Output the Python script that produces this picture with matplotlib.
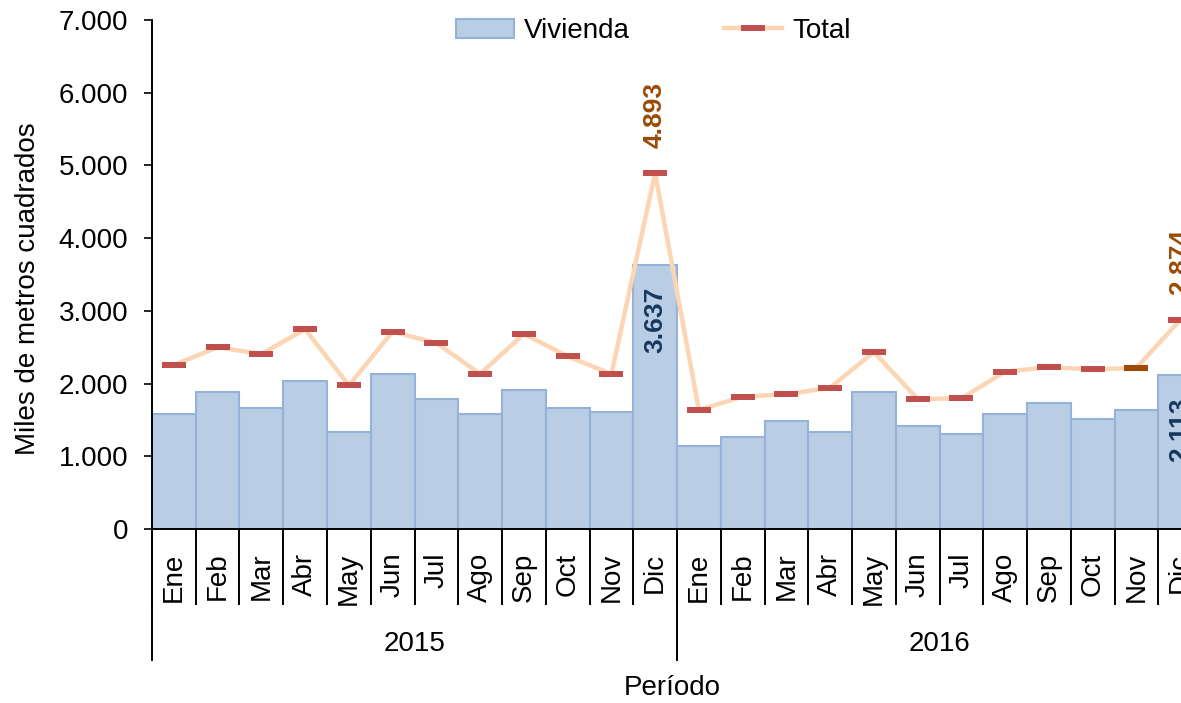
import numpy as np
import matplotlib
matplotlib.use("Agg")
import matplotlib.pyplot as plt
from matplotlib.ticker import FuncFormatter
from matplotlib.patches import Patch
from matplotlib.lines import Line2D

plt.rcParams['font.family'] = ['Liberation Sans', 'DejaVu Sans']

# Datos (miles de m2)
meses = ["Ene", "Feb", "Mar", "Abr", "May", "Jun",
         "Jul", "Ago", "Sep", "Oct", "Nov", "Dic"]
anios = ["2015", "2016"]
vivienda = [1577, 1880, 1669, 2035, 1338, 2132, 1792, 1582, 1912, 1669, 1609, 3637,
            1142, 1270, 1485, 1334, 1880, 1421, 1307, 1582, 1733, 1513, 1637, 2113]
total = [2255, 2499, 2407, 2746, 1976, 2714, 2558, 2132, 2682, 2375, 2132, 4893,
         1637, 1820, 1852, 1944, 2434, 1788, 1797, 2164, 2224, 2196, 2214, 2874]
etiquetados = [11, 23]   # Dic de cada año
resaltado = 22           # Nov 2016

c_barra = "#B9CDE5"
c_borde = "#95B3D7"
c_linea = "#FCD5B5"
c_marca = "#C0504D"
c_marron = "#9C4A06"
c_azul = "#17375E"

n = len(vivienda)
x = np.arange(n)

fig = plt.figure(figsize=(11.81, 7.03), dpi=100)
ax = fig.add_axes([152 / 1181, 1 - 529 / 703, (1202 - 152) / 1181, 509 / 703])

ax.bar(x, vivienda, width=1.0, color=c_barra, edgecolor=c_borde, linewidth=1.5, zorder=2)

dash = [(-1, -0.26), (1, -0.26), (1, 0.26), (-1, 0.26), (-1, -0.26)]
ax.plot(x, total, color=c_linea, linewidth=3.2, zorder=3)
ax.plot(x, total, linestyle="none", marker=dash, markersize=17,
        color=c_marca, markeredgewidth=0, zorder=4)
ax.plot(x[resaltado], total[resaltado], linestyle="none", marker=dash, markersize=17,
        color=c_marron, markeredgewidth=0, zorder=5)

for i in etiquetados:
    ax.annotate(f"{vivienda[i]:,}".replace(",", "."), (x[i], vivienda[i]),
                xytext=(0, -16), textcoords="offset points", rotation=90,
                ha="center", va="top", fontsize=19, fontweight="bold",
                color=c_azul, zorder=6, annotation_clip=False)
    ax.annotate(f"{total[i]:,}".replace(",", "."), (x[i], total[i]),
                xytext=(0, 18), textcoords="offset points", rotation=90,
                ha="center", va="bottom", fontsize=19, fontweight="bold",
                color=c_marron, zorder=6, annotation_clip=False)

ax.set_xlim(-0.5, n - 0.5)
ax.set_ylim(0, 7000)
ax.set_yticks(np.arange(0, 7001, 1000))
ax.yaxis.set_major_formatter(FuncFormatter(lambda v, p: f"{int(v):,}".replace(",", ".")))
ax.tick_params(axis="y", labelsize=20, length=6, width=1.2, pad=11)

# separadores de meses (ticks mayores) y etiquetas (ticks menores)
ax.set_xticks(np.arange(-0.5, n, 1.0))
ax.set_xticklabels([])
ax.tick_params(axis="x", which="major", length=55, width=1.4, direction="out")
ax.set_xticks(x, minor=True)
ax.set_xticklabels(meses * len(anios), minor=True, rotation=90, fontsize=20)
ax.tick_params(axis="x", which="minor", length=0, pad=17)

# separadores de año
trans = ax.get_xaxis_transform()
for k in range(len(anios) + 1):
    ax.plot([k * 12 - 0.5] * 2, [0, -0.257], color="black", linewidth=1.4,
            transform=trans, clip_on=False)
for k, a in enumerate(anios):
    ax.text(k * 12 + 5.5, -0.225, a, transform=trans, ha="center", va="center",
            fontsize=20)

for s in ["top", "right"]:
    ax.spines[s].set_visible(False)
for s in ["left", "bottom"]:
    ax.spines[s].set_linewidth(1.4)

fig.text(672 / 1181, 1 - 688 / 703, "Período", ha="center", va="center", fontsize=20)
fig.text(28 / 1181, 1 - 289 / 703, "Miles de metros cuadrados", rotation=90,
         ha="center", va="center", fontsize=20)

handles = [Patch(facecolor=c_barra, edgecolor=c_borde, linewidth=1.5),
           Line2D([], [], color=c_linea, linewidth=3.2, marker=dash, markersize=17,
                  markerfacecolor=c_marca, markeredgewidth=0)]
fig.legend(handles, ["Vivienda", "Total"], loc="center",
           bbox_to_anchor=(653 / 1181, 1 - 31 / 703), ncol=2, frameon=False,
           fontsize=20, handlelength=2.1, handletextpad=0.35, columnspacing=3.4)

fig.savefig("out.png", dpi=100)
